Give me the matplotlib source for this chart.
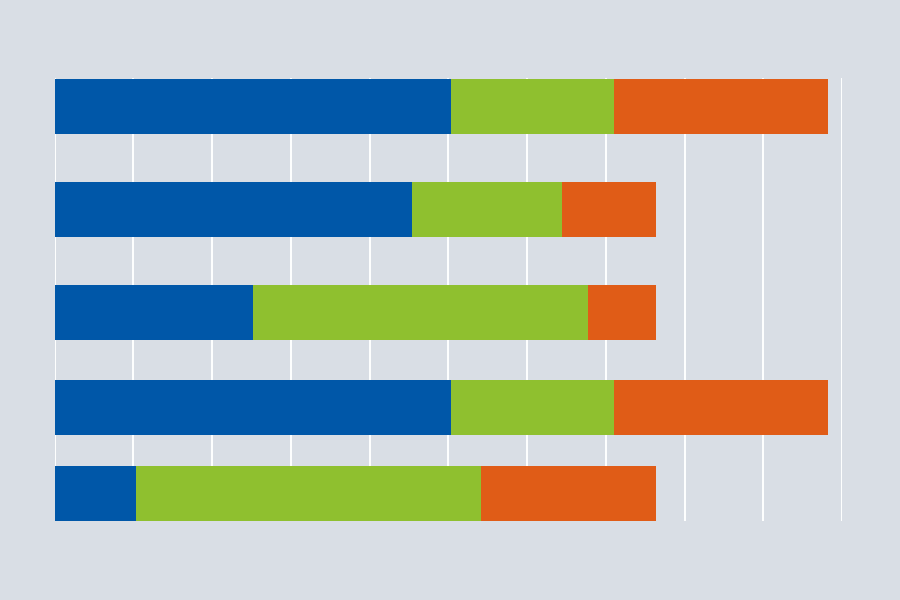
import matplotlib
matplotlib.use("Agg")
import matplotlib.pyplot as plt
import numpy as np

# segment values for each row, top to bottom
blue_vals = [50.3, 45.4, 25.2, 50.3, 10.4]
green_vals = [20.7, 19.0, 42.6, 20.7, 43.7]
orange_vals = [27.2, 12.0, 8.6, 27.2, 22.3]
row_pos = [27.7, 131.4, 234.2, 329.2, 415.0]

bg = "#d9dee5"
colors = ["#0057a8", "#8fc02f", "#e05c17"]

fig = plt.figure(figsize=(9, 6), dpi=100, facecolor=bg)
ax = fig.add_axes([54.5 / 900, (600 - 520.7) / 600, (842 - 54.5) / 900, (520.7 - 78.3) / 600])
ax.set_facecolor(bg)

left = np.zeros(len(blue_vals))
for vals, c in zip([blue_vals, green_vals, orange_vals], colors):
    ax.barh(row_pos, vals, left=left, height=55, color=c,
            linewidth=0, zorder=3)
    left += np.array(vals)

ax.set_xlim(0, 100)
ax.set_ylim(442.4, 0)
ax.set_xticks(np.arange(0, 101, 10))
ax.set_yticks([])
ax.grid(axis="x", color="white", linewidth=1.4, zorder=0)
ax.set_axisbelow(True)
ax.tick_params(length=0, labelbottom=False)
for s in ax.spines.values():
    s.set_visible(False)

fig.savefig("out.png", dpi=100, facecolor=bg)
